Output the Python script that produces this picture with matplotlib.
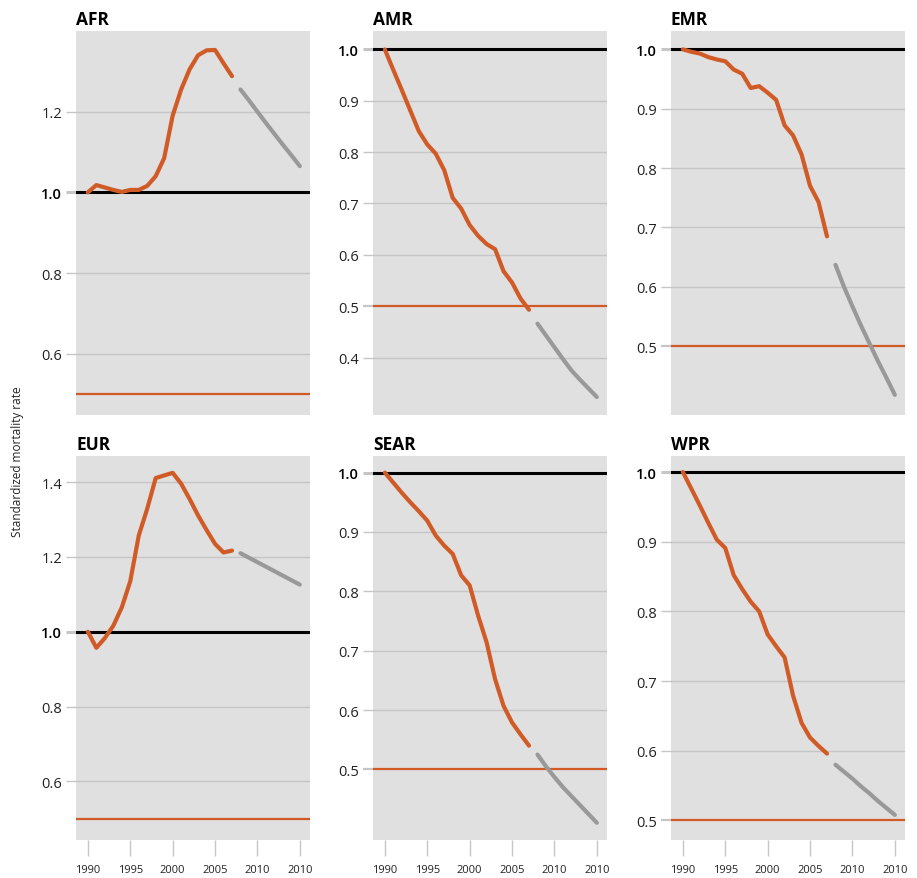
import numpy as np
import matplotlib
matplotlib.use("Agg")
import matplotlib.pyplot as plt

plt.rcParams['font.family'] = ['Open Sans', 'DejaVu Sans']

# observed standardized rates 1990-2007, projections 2008-2015
years_obs = list(range(1990, 2008))
years_proj = list(range(2008, 2016))

afr_obs = [1.000, 1.018, 1.012, 1.006, 1.001, 1.006, 1.006, 1.016, 1.040,
           1.085, 1.190, 1.255, 1.305, 1.340, 1.352, 1.353, 1.320, 1.288]
afr_proj = [1.255, 1.228, 1.200, 1.172, 1.145, 1.118, 1.092, 1.065]

amr_obs = [1.000, 0.960, 0.921, 0.881, 0.841, 0.815, 0.797, 0.765, 0.711,
           0.690, 0.658, 0.637, 0.621, 0.611, 0.568, 0.546, 0.515, 0.493]
amr_proj = [0.466, 0.443, 0.420, 0.397, 0.375, 0.357, 0.340, 0.323]

emr_obs = [1.000, 0.996, 0.993, 0.987, 0.983, 0.980, 0.966, 0.959, 0.935,
           0.938, 0.927, 0.915, 0.872, 0.855, 0.823, 0.770, 0.743, 0.685]
emr_proj = [0.637, 0.600, 0.567, 0.535, 0.505, 0.475, 0.447, 0.418]

eur_obs = [1.000, 0.957, 0.983, 1.016, 1.065, 1.135, 1.257, 1.329, 1.411,
           1.418, 1.425, 1.396, 1.355, 1.311, 1.272, 1.235, 1.212, 1.217]
eur_proj = [1.210, 1.198, 1.186, 1.174, 1.162, 1.150, 1.138, 1.126]

sear_obs = [1.000, 0.983, 0.966, 0.950, 0.935, 0.919, 0.894, 0.877, 0.863,
            0.827, 0.810, 0.759, 0.714, 0.652, 0.607, 0.579, 0.559, 0.540]
sear_proj = [0.525, 0.505, 0.487, 0.470, 0.455, 0.440, 0.425, 0.410]

wpr_obs = [1.000, 0.976, 0.952, 0.927, 0.903, 0.891, 0.852, 0.832, 0.814,
           0.800, 0.767, 0.750, 0.734, 0.679, 0.640, 0.619, 0.607, 0.596]
wpr_proj = [0.580, 0.570, 0.560, 0.549, 0.539, 0.528, 0.518, 0.508]

regions = ['AFR', 'AMR', 'EMR', 'EUR', 'SEAR', 'WPR']
obs = [afr_obs, amr_obs, emr_obs, eur_obs, sear_obs, wpr_obs]
proj = [afr_proj, amr_proj, emr_proj, eur_proj, sear_proj, wpr_proj]
yticks = [[0.6, 0.8, 1.0, 1.2],
          [0.4, 0.5, 0.6, 0.7, 0.8, 0.9, 1.0],
          [0.5, 0.6, 0.7, 0.8, 0.9, 1.0],
          [0.6, 0.8, 1.0, 1.2, 1.4],
          [0.5, 0.6, 0.7, 0.8, 0.9, 1.0],
          [0.5, 0.6, 0.7, 0.8, 0.9, 1.0]]
ylims = [(0.448, 1.40), (0.288, 1.036), (0.384, 1.031),
         (0.443, 1.47), (0.381, 1.028), (0.472, 1.023)]
xtick_pos = [1990, 1995, 2000, 2005, 2010, 2015]
xtick_labels = ['1990', '1995', '2000', '2005', '2010', '2010']
target = 0.5

ORANGE = '#d05b27'
GREY_LINE = '#999999'
BG = '#e0e0e0'
GRID = '#c6c6c6'

W, H = 917, 879
fig = plt.figure(figsize=(W / 100, H / 100), dpi=100)

# panel boxes in pixels: (left, right) and (top, bottom)
cols = [(76, 310), (373, 607), (671, 905)]
rows = [(32, 416), (457, 841)]

for i, name in enumerate(regions):
    r, c = divmod(i, 3)
    x0, x1 = cols[c]
    y0, y1 = rows[r]
    ax = fig.add_axes([x0 / W, 1 - y1 / H, (x1 - x0) / W, (y1 - y0) / H])
    ax.set_facecolor(BG)
    for s in ax.spines.values():
        s.set_visible(False)
    ax.set_xlim(1988.6, 2016.2)
    ax.set_ylim(*ylims[i])

    ticks = yticks[i]
    ax.set_yticks(ticks)
    ax.set_yticklabels(['%.1f' % t for t in ticks])
    ax.tick_params(axis='y', length=7, width=1, color=GRID, pad=3,
                   labelsize=10.5, labelcolor='#222222')
    for t, tk in zip(ticks, ax.yaxis.get_major_ticks()):
        if t == 1.0:
            tk.tick1line.set_color('black')
            tk.tick1line.set_markeredgewidth(2.2)
            tk.label1.set_fontweight('semibold')
            tk.label1.set_color('black')
        elif t == target:
            tk.tick1line.set_color(ORANGE)
            tk.tick1line.set_markeredgewidth(1.6)

    for t in ticks:
        if t not in (1.0, target):
            ax.axhline(t, color=GRID, lw=1, zorder=1)
    ax.axhline(target, color=ORANGE, lw=1.6, zorder=2)
    ax.axhline(1.0, color='black', lw=2.2, zorder=2)

    ax.plot(years_obs, obs[i], color=ORANGE, lw=3, solid_capstyle='round',
            solid_joinstyle='round', zorder=3)
    ax.plot(years_proj, proj[i], color=GREY_LINE, lw=3, solid_capstyle='round',
            solid_joinstyle='round', zorder=3)

    ax.set_xticks(xtick_pos)
    if r == 1:
        ax.set_xticklabels(xtick_labels)
        ax.tick_params(axis='x', length=11.5, width=1, color=GRID, pad=6,
                       labelsize=8, labelcolor='#222222')
    else:
        ax.tick_params(axis='x', length=0, labelbottom=False)

    ax.set_title(name, loc='left', fontweight='bold', fontsize=12.5, pad=5)

fig.text(18 / W, 1 - 462 / H, 'Standardized mortality rate', rotation=90,
         ha='center', va='center', fontsize=8.5, color='#222222')

fig.savefig('out.png', dpi=100, facecolor='white')
